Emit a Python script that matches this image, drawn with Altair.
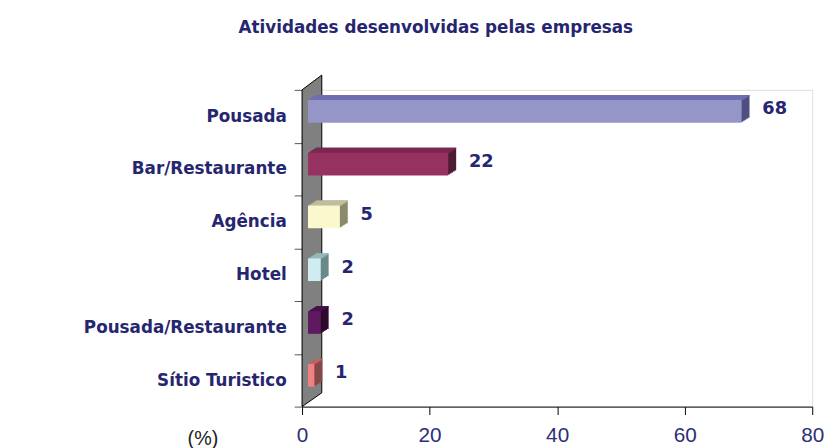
import altair as alt
import pandas as pd

# ---- data ----
categories = ["Pousada", "Bar/Restaurante", "Agência", "Hotel",
              "Pousada/Restaurante", "Sítio Turistico"]
values = [68, 22, 5, 2, 2, 1]

# ---- styling ----
front_colors = ["#9595C8", "#963262", "#FAF8CC", "#D0ECF0", "#5E1A60", "#F28080"]
top_colors = ["#6E6EB2", "#7A2650", "#C8C6A0", "#98C0C2", "#48104A", "#C46060"]
side_colors = ["#4E4E82", "#4E1A36", "#8A8A6E", "#6A8A8A", "#2E082E", "#844848"]
NAVY = "#262670"
FONT = "DejaVu Sans"

W, H = 517, 321
XMAX = 80
BAR_H = 23
BAR_X0 = 6        # px the bars start in front of the wall
BAR_YOFF = -5     # px shift of bar front from band centre
DEPTH_X, DEPTH_Y = 8, 5   # bar depth in px
WALL_DX_PX, WALL_DY_PX = 20, 15

df = pd.DataFrame({
    "cat": categories,
    "value": values,
    "front": front_colors,
    "top": top_colors,
    "side": side_colors,
})

xscale = alt.Scale(domain=[0, XMAX], nice=False)
xaxis = alt.Axis(
    values=[0, 20, 40, 60, 80], grid=False, title="(%)", labelFlush=False,
    labelFont="Liberation Sans", labelFontSize=21, labelColor="#2E2E78",
    labelPadding=10, tickSize=8, tickColor="black", domainColor="black",
    titleFont="Liberation Sans", titleFontSize=20, titleFontWeight="normal",
    titleColor="#222222", titleX=-101, titleY=38, titleAlign="center",
    titleBaseline="alphabetic", titleAnchor="start",
)
yaxis = alt.Axis(
    title=None, labelFont=FONT, labelFontSize=17, labelFontWeight="bold",
    labelColor=NAVY, labelPadding=8, tickSize=8, tickBand="extent",
    tickColor="#555555", domainColor="black", labelLimit=400, grid=False,
)
Y = alt.Y("cat:N", sort=categories, axis=yaxis,
          scale=alt.Scale(paddingInner=0, paddingOuter=0))
X = alt.X("value:Q", scale=xscale, axis=xaxis)

base = alt.Chart(df).encode(y=Y)

layers = []
# side faces (swept copies)
for h in range(1, DEPTH_Y + 1):
    sx = BAR_X0 + DEPTH_X * h / DEPTH_Y
    layers.append(
        base.mark_bar(height=BAR_H, xOffset=sx, x2Offset=sx,
                      yOffset=BAR_YOFF - h)
        .encode(x=X, x2=alt.datum(0), color=alt.Color("side:N", scale=None))
    )
# top faces (staircase rows)
for h in range(1, DEPTH_Y + 1):
    sx = BAR_X0 + DEPTH_X * h / DEPTH_Y
    layers.append(
        base.mark_bar(height=1.3, xOffset=sx, x2Offset=sx,
                      yOffset=BAR_YOFF - BAR_H / 2 - h + 0.5)
        .encode(x=X, x2=alt.datum(0), color=alt.Color("top:N", scale=None))
    )
# front faces
layers.append(
    base.mark_bar(height=BAR_H, xOffset=BAR_X0, x2Offset=BAR_X0, yOffset=BAR_YOFF)
    .encode(x=X, x2=alt.datum(0), color=alt.Color("front:N", scale=None))
)
# value labels
layers.append(
    base.mark_text(align="left", baseline="middle", dx=27, dy=-7,
                   font=FONT, fontSize=18, fontWeight="bold", color=NAVY)
    .encode(x=X, text="value:Q")
)
bars = alt.layer(*layers)

# back wall (decoration), in its own unit scale
ncat = len(categories)
wdx = WALL_DX_PX * XMAX / W
wdy = WALL_DY_PX * ncat / H
wall_df = pd.DataFrame({"wx": [0, wdx], "wy": [0, wdy * 14 / 15], "wy2": [ncat, ncat + wdy]})
wall = alt.Chart(wall_df).mark_area(
    fill="#808080", stroke="black", strokeWidth=1
).encode(
    x=alt.X("wx:Q", scale=xscale, axis=xaxis),
    y=alt.Y("wy:Q", scale=alt.Scale(domain=[0, ncat], nice=False, zero=False), axis=None),
    y2="wy2:Q",
)

chart = alt.layer(wall, bars).resolve_scale(y="independent").properties(
    width=W, height=H,
    autosize=alt.AutoSizeParams(type="none"),
    padding={"left": 298, "top": 80, "right": 17, "bottom": 40},
    title=alt.TitleParams(
        "Atividades desenvolvidas pelas empresas", font=FONT, fontSize=17,
        fontWeight="bold", color=NAVY, anchor="middle", dx=-123, offset=37,
    ),
).configure_view(stroke="transparent").configure(background="white")

chart.save("out.html", embed_options={"renderer": "svg", "actions": False})
